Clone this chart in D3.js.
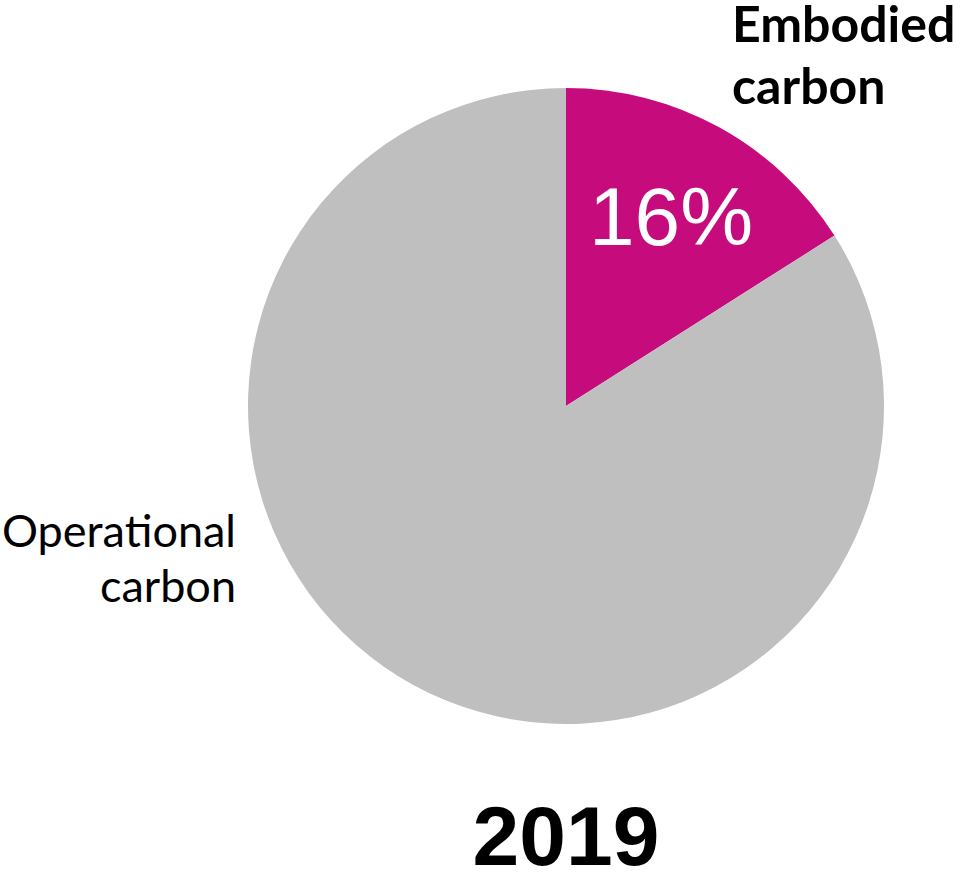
<!DOCTYPE html>
<html><head><meta charset="utf-8">
<script src="https://cdn.jsdelivr.net/npm/d3@7"></script>
<style>html,body{margin:0;padding:0;background:#fff;}svg{display:block;}</style>
</head><body>
<svg id="chart" width="962" height="879"></svg>
<script>
const categories = ["Embodied carbon", "Operational carbon"];
const values = [16, 84];
const colors = ["#C60C7C", "#BFBFBF"];
const title = "2019";

const svg = d3.select("#chart");
const cx = 566, cy = 406, r = 318;
const g = svg.append("g").attr("transform", `translate(${cx},${cy})`);

const pie = d3.pie().sort(null).value(d => d.v);
const data = pie(categories.map((c, i) => ({c, v: values[i]})));
const arc = d3.arc().innerRadius(0).outerRadius(r);
g.selectAll("path").data(data).join("path")
  .attr("d", arc).attr("fill", (d, i) => colors[i]);

const labelArc = d3.arc().innerRadius(r * 0.686).outerRadius(r * 0.686);
const c0 = labelArc.centroid(data[0]);
g.append("text").attr("x", c0[0]).attr("y", c0[1] + 30)
  .attr("text-anchor", "middle").attr("fill", "#fff")
  .style("font-family", "'Liberation Sans', Arial, sans-serif").style("font-size", "82px")
  .text(Math.round(values[0] / d3.sum(values) * 100) + "%");

// Category labels
const emb = categories[0].split(" ");
svg.append("text").attr("x", 732).attr("y", 42)
  .style("font-family", "Lato, sans-serif").style("font-weight", "bold").style("font-size", "50px")
  .attr("fill", "#000")
  .selectAll("tspan").data(emb).join("tspan")
  .attr("x", 732).attr("dy", (d, i) => i === 0 ? 0 : 62).text(d => d);

const op = categories[1].split(" ");
svg.append("text").attr("x", 236).attr("y", 547)
  .attr("text-anchor", "end")
  .style("font-family", "Lato, sans-serif").style("font-size", "45px")
  .attr("fill", "#000")
  .selectAll("tspan").data(op).join("tspan")
  .attr("x", 236).attr("dy", (d, i) => i === 0 ? 0 : 55).text(d => d);

svg.append("text").attr("x", cx).attr("y", 865)
  .attr("text-anchor", "middle")
  .style("font-family", "'Liberation Sans', Arial, sans-serif").style("font-weight", "bold").style("font-size", "84px")
  .attr("fill", "#000").text(title);
</script>
</body></html>
